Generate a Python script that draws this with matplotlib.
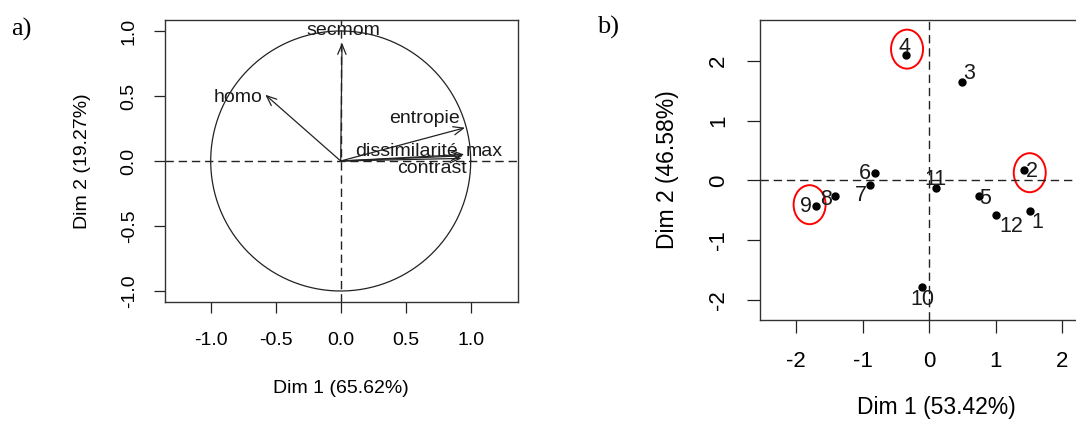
import numpy as np
import matplotlib.pyplot as plt
from matplotlib.patches import Ellipse

plt.rcParams['font.family'] = ['Liberation Sans', 'DejaVu Sans']
plt.rcParams['axes.unicode_minus'] = False

# a) cercle des correlations
var_names = ['secmom', 'homo', 'entropie', 'dissimilarité', 'max', 'contrast']
var_dim1 = [0.01, -0.58, 0.956, 0.94, 0.95, 0.93]
var_dim2 = [0.91, 0.51, 0.256, 0.04, 0.05, 0.02]
# label offsets in pixels (right, down)
var_lab_dx = [1, -27, -40, -56, 20, -30]
var_lab_dy = [-12, 3, -9, -4, -3, 10]

# b) individus
ind_names = ['1', '2', '3', '4', '5', '6', '7', '8', '9', '10', '11', '12']
ind_dim1 = [1.52, 1.42, 0.49, -0.35, 0.74, -0.81, -0.89, -1.42, -1.71, -0.11, 0.10, 1.01]
ind_dim2 = [-0.51, 0.18, 1.65, 2.09, -0.26, 0.13, -0.07, -0.26, -0.42, -1.78, -0.12, -0.58]
ind_lab_dx = [7, 8, 7, -2, 7, -11, -9, -9, -10, 0, -1, 15]
ind_lab_dy = [11, 2, -8, -8, 2, 1, 11, 3, 1, 12, -8, 11]
circled = ['4', '2', '9']
circ_dx = [1, 6, -6]
circ_dy = [-6, 3, -1]

W, H, DPI = 1076, 421, 100
PT = 72.0 / DPI  # points per pixel
fig = plt.figure(figsize=(W / DPI, H / DPI), dpi=DPI)

dash = (0, (6, 3.5))

# ---------- a) ----------
ax1 = fig.add_axes([165 / W, (H - 302) / H, 352.7 / W, 282 / H])
ax1.set_xlim(-1.3515, 1.3615)
ax1.set_ylim(-1.0846, 1.0846)
t = np.linspace(0, 2 * np.pi, 400)
ax1.plot(np.cos(t), np.sin(t), color='#222222', lw=0.9)
ax1.axhline(0, color='#222222', lw=1, ls=dash)
ax1.axvline(0, color='#222222', lw=1, ls=dash)
for name, x, y, dx, dy in zip(var_names, var_dim1, var_dim2, var_lab_dx, var_lab_dy):
    ax1.annotate('', xy=(x, y), xytext=(0, 0),
                 arrowprops=dict(arrowstyle='->,head_length=0.6,head_width=0.25',
                                 color='#222222', lw=0.9, shrinkA=0, shrinkB=0,
                                 mutation_scale=12))
    ax1.annotate(name, xy=(x, y), xytext=(dx * PT, -dy * PT), textcoords='offset points',
                 ha='center', va='center', fontsize=14, color='#1a1a1a')
ax1.set_xticks([-1.0, -0.5, 0.0, 0.5, 1.0])
ax1.set_yticks([-1.0, -0.5, 0.0, 0.5, 1.0])
ax1.set_xticklabels(['-1.0', '-0.5', '0.0', '0.5', '1.0'])
ax1.set_yticklabels(['-1.0', '-0.5', '0.0', '0.5', '1.0'], rotation=90, va='center')
ax1.tick_params(length=7.7, width=0.9, labelsize=14, color='#222222')
ax1.tick_params(axis='x', pad=14)
ax1.tick_params(axis='y', pad=12)
ax1.set_xlabel('Dim 1 (65.62%)', fontsize=14, labelpad=22)
ax1.set_ylabel('Dim 2 (19.27%)', fontsize=14, labelpad=21)
for s in ax1.spines.values():
    s.set_linewidth(1.0)
    s.set_color('#333333')

# ---------- b) ----------
ax2 = fig.add_axes([760 / W, (H - 320) / H, 352 / W, 300 / H])
ax2.set_xlim(-2.546, 2.747)
ax2.set_ylim(-2.326, 2.676)
ax2.axhline(0, color='#222222', lw=1, ls=dash)
ax2.axvline(0, color='#222222', lw=1, ls=dash)
ax2.plot(ind_dim1, ind_dim2, 'o', color='black', ms=5)
for name, x, y, dx, dy in zip(ind_names, ind_dim1, ind_dim2, ind_lab_dx, ind_lab_dy):
    ax2.annotate(name, xy=(x, y), xytext=(dx * PT, -dy * PT), textcoords='offset points',
                 ha='center', va='center', fontsize=15.5, color='#1a1a1a')
px_x = 352 / (2.747 + 2.546)
px_y = 300 / (2.676 + 2.326)
for name, dx, dy in zip(circled, circ_dx, circ_dy):
    i = ind_names.index(name)
    cx = ind_dim1[i] + dx / px_x
    cy = ind_dim2[i] - dy / px_y
    ax2.add_patch(Ellipse((cx, cy), 32 / px_x, 39 / px_y, fill=False,
                          edgecolor='red', lw=1.4))
ax2.set_xticks([-2, -1, 0, 1, 2])
ax2.set_yticks([-2, -1, 0, 1, 2])
ax2.set_yticklabels(['-2', '-1', '0', '1', '2'], rotation=90, va='center')
ax2.tick_params(length=9.5, width=0.9, labelsize=16, color='#222222')
ax2.tick_params(axis='x', pad=13)
ax2.tick_params(axis='y', pad=13)
ax2.set_xlabel('Dim 1 (53.42%)', fontsize=16.5, labelpad=17)
ax2.set_ylabel('Dim 2 (46.58%)', fontsize=16.5, labelpad=21)
for s in ax2.spines.values():
    s.set_linewidth(1.0)
    s.set_color('#333333')

fig.text(11 / W, 1 - 29 / H, 'a)', fontsize=19, family='Liberation Serif', va='center')
fig.text(597 / W, 1 - 27 / H, 'b)', fontsize=19, family='Liberation Serif', va='center')

fig.savefig('out.png', dpi=DPI)
